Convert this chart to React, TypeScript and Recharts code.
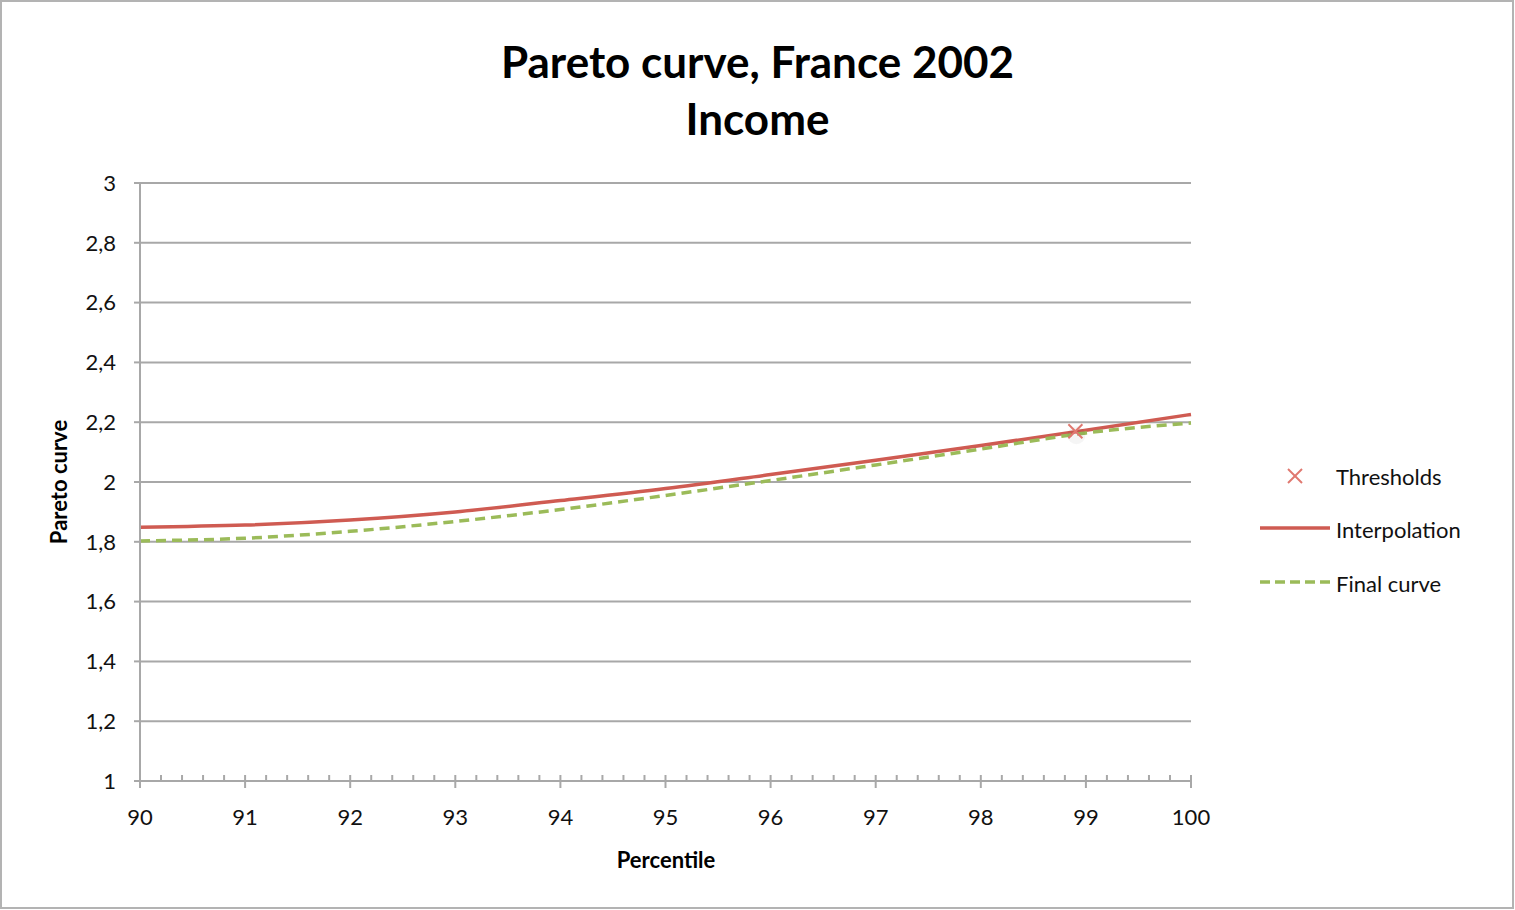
import { ComposedChart, Line, Scatter, XAxis, YAxis, CartesianGrid } from 'recharts'

document.body.style.margin = '0'

const percentiles = [90, 91, 92, 93, 94, 95, 96, 97, 98, 99, 100]
const interpolation = [1.849, 1.856, 1.873, 1.9, 1.938, 1.978, 2.025, 2.073, 2.122, 2.173, 2.226]
const finalCurve = [1.803, 1.812, 1.835, 1.868, 1.908, 1.955, 2.005, 2.057, 2.11, 2.164, 2.197]
const thresholds = [{ x: 98.9, y: 2.17 }]

const yTicks = [1, 1.2, 1.4, 1.6, 1.8, 2, 2.2, 2.4, 2.6, 2.8, 3]
// axis ticks every 0.2 percentile, labelled on whole numbers only
const xTicks = Array.from({ length: 51 }, (_, i) => Math.round((90 + i * 0.2) * 10) / 10)

const interpData = percentiles.map((x, i) => ({ x, y: interpolation[i] }))
const finalData = percentiles.map((x, i) => ({ x, y: finalCurve[i] }))

const RED = '#cf5b52'
const GREEN = '#9bbb59'
const GRID = '#a8a8a8'
const FONT = 'Lato, "Open Sans", sans-serif'

function XTick({ x, y, payload }: any) {
  const major = Number.isInteger(payload.value)
  if (!major) {
    return <line x1={x} x2={x} y1={y} y2={y - 6} stroke={GRID} strokeWidth={2} />
  }
  return (
    <g>
      <line x1={x} x2={x} y1={y - 6} y2={y + 7} stroke={GRID} strokeWidth={2} />
      <text x={x} y={y + 44} textAnchor="middle" fontSize={22} fill="#111" fontFamily={FONT}>
        {payload.value}
      </text>
    </g>
  )
}

function Cross({ cx, cy }: any) {
  return (
    <g>
      <circle cx={cx + 1} cy={cy + 4} r={9} fill="#000" opacity={0.04} />
      <line x1={cx - 7} y1={cy - 7} x2={cx + 7} y2={cy + 7} stroke="#e0786f" strokeWidth={2} />
      <line x1={cx - 7} y1={cy + 7} x2={cx + 7} y2={cy - 7} stroke="#e0786f" strokeWidth={2} />
    </g>
  )
}

function LegendBox() {
  const text = { fontSize: 22, fill: '#111', fontFamily: FONT }
  return (
    <svg width={240} height={150}>
      <line x1={30} y1={10} x2={44} y2={24} stroke="#e0786f" strokeWidth={2} />
      <line x1={30} y1={24} x2={44} y2={10} stroke="#e0786f" strokeWidth={2} />
      <text x={78} y={26} {...text}>Thresholds</text>
      <line x1={2} y1={69} x2={72} y2={69} stroke={RED} strokeWidth={3.5} />
      <text x={78} y={79} {...text}>Interpolation</text>
      <line x1={2} y1={123} x2={72} y2={123} stroke={GREEN} strokeWidth={3.5} strokeDasharray="10 5" />
      <text x={78} y={133} {...text}>Final curve</text>
    </svg>
  )
}

export default function App() {
  return (
    <div style={{ position: 'relative', width: 1515, height: 910, background: '#fff', fontFamily: FONT }}>
      <div
        style={{
          position: 'absolute', left: 0, top: 0, width: 1514, height: 909,
          border: '2px solid #b3b3b3', boxSizing: 'border-box',
        }}
      />
      <div style={{ position: 'absolute', left: 0, width: 1515, top: 33, textAlign: 'center', fontSize: 44, fontWeight: 700, lineHeight: '57px', color: '#000' }}>
        Pareto curve, France 2002
        <br />
        Income
      </div>
      <div
        style={{
          position: 'absolute', left: 58, top: 482, transform: 'translate(-50%, -50%) rotate(-90deg)',
          fontSize: 22, fontWeight: 700, whiteSpace: 'nowrap',
        }}
      >
        Pareto curve
      </div>
      <div style={{ position: 'absolute', left: 666, top: 859, transform: 'translate(-50%, -50%)', fontSize: 22, fontWeight: 700 }}>
        Percentile
      </div>
      <div style={{ position: 'absolute', left: 1258, top: 459 }}>
        <LegendBox />
      </div>
      <div style={{ position: 'absolute', left: 0, top: 0 }}>
        <ComposedChart width={1515} height={910} margin={{ top: 183, right: 324, bottom: 128, left: 80 }}>
          <CartesianGrid vertical={false} stroke={GRID} strokeWidth={2} horizontalValues={yTicks} />
          <XAxis
            dataKey="x"
            type="number"
            domain={[90, 100]}
            ticks={xTicks}
            interval={0}
            tickLine={false}
            tickSize={0}
            tickMargin={0}
            axisLine={{ stroke: GRID, strokeWidth: 2 }}
            tick={<XTick />}
            height={1}
          />
          <YAxis
            type="number"
            domain={[1, 3]}
            ticks={yTicks}
            interval={0}
            width={60}
            axisLine={{ stroke: GRID, strokeWidth: 2 }}
            tickLine={{ stroke: GRID, strokeWidth: 2 }}
            tickSize={6}
            tickMargin={18}
            tick={{ fontSize: 22, fill: '#111', fontFamily: FONT }}
            tickFormatter={(v: number) => String(Number(v.toFixed(1))).replace('.', ',')}
          />
          <Line
            data={interpData}
            dataKey="y"
            type="monotone"
            stroke={RED}
            strokeWidth={3.5}
            dot={false}
            isAnimationActive={false}
          />
          <Line
            data={finalData}
            dataKey="y"
            type="monotone"
            stroke={GREEN}
            strokeWidth={3.5}
            strokeDasharray="10 6"
            dot={false}
            isAnimationActive={false}
          />
          <Scatter data={thresholds} dataKey="y" shape={<Cross />} isAnimationActive={false} />
        </ComposedChart>
      </div>
    </div>
  )
}
